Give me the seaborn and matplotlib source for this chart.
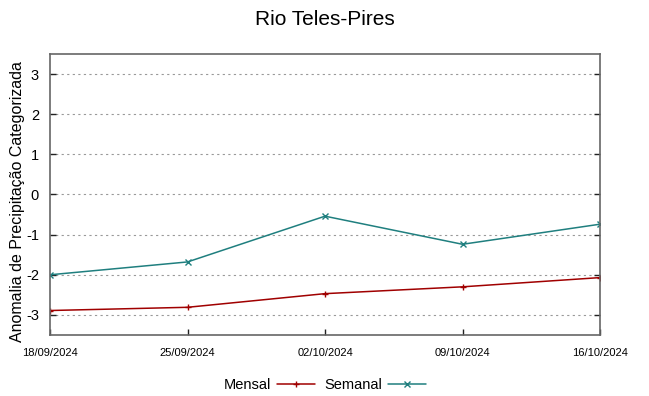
import matplotlib
matplotlib.use("Agg")
import matplotlib.pyplot as plt
import seaborn as sns
import pandas as pd

dates = ["18/09/2024", "25/09/2024", "02/10/2024", "09/10/2024", "16/10/2024"]
mensal = [-2.89, -2.81, -2.47, -2.30, -2.07]
semanal = [-2.00, -1.68, -0.54, -1.24, -0.74]
yticks = [-3, -2, -1, 0, 1, 2, 3]

sns.set_style("white")
plt.rcParams['font.family'] = ['Liberation Sans', 'DejaVu Sans']
plt.rcParams['text.color'] = 'black'
plt.rcParams['xtick.color'] = 'black'
plt.rcParams['ytick.color'] = 'black'
plt.rcParams['axes.labelcolor'] = 'black'

df = pd.DataFrame({
    "x": list(range(len(dates))) * 2,
    "valor": mensal + semanal,
    "serie": ["Mensal"] * len(dates) + ["Semanal"] * len(dates),
})

fig = plt.figure(figsize=(6.49, 3.96), dpi=100)
ax = fig.add_axes([50/649, 1-335/396, 550/649, 281/396])

palette = {"Mensal": "#a00000", "Semanal": "#1f7f7f"}
markers = {"Mensal": "+", "Semanal": "x"}
for name in ["Mensal", "Semanal"]:
    sub = df[df["serie"] == name]
    sns.lineplot(data=sub, x="x", y="valor", ax=ax, color=palette[name],
                 marker=markers[name], markersize=5, markeredgewidth=1,
                 markeredgecolor=palette[name], markerfacecolor=palette[name],
                 linewidth=1.1, label=name)

ax.set_xlim(0, len(dates) - 1)
ax.set_ylim(-3.5, 3.5)
ax.set_xticks(range(len(dates)))
ax.set_xticklabels(dates, fontsize=8)
ax.set_yticks(yticks)
ax.set_yticklabels([str(t) for t in yticks], fontsize=10.5)
ax.yaxis.grid(True, linestyle=(0, (2, 3)), color="#999999", linewidth=0.8)
ax.xaxis.grid(False)
ax.tick_params(axis="both", direction="in", length=4, color="#222222",
               left=True, right=True, bottom=True, top=False, width=1)
ax.tick_params(axis="x", pad=9)
ax.tick_params(axis="y", pad=8)
for s in ax.spines.values():
    s.set_color("#666666")
    s.set_linewidth(1.2)
ax.set_xlabel("")
ax.set_ylabel("Anomalia de Precipitação Categorizada", fontsize=11.5, labelpad=2)
ax.yaxis.set_label_coords(-0.045, 0.475)
fig.suptitle("Rio Teles-Pires", fontsize=15, y=0.975)

leg = ax.legend(loc="upper center", bbox_to_anchor=(0.5, -0.105), ncol=2,
                frameon=False, fontsize=10.5, markerfirst=False,
                handlelength=2.6, columnspacing=0.6, handletextpad=0.4)

fig.savefig("out.png", dpi=100)
